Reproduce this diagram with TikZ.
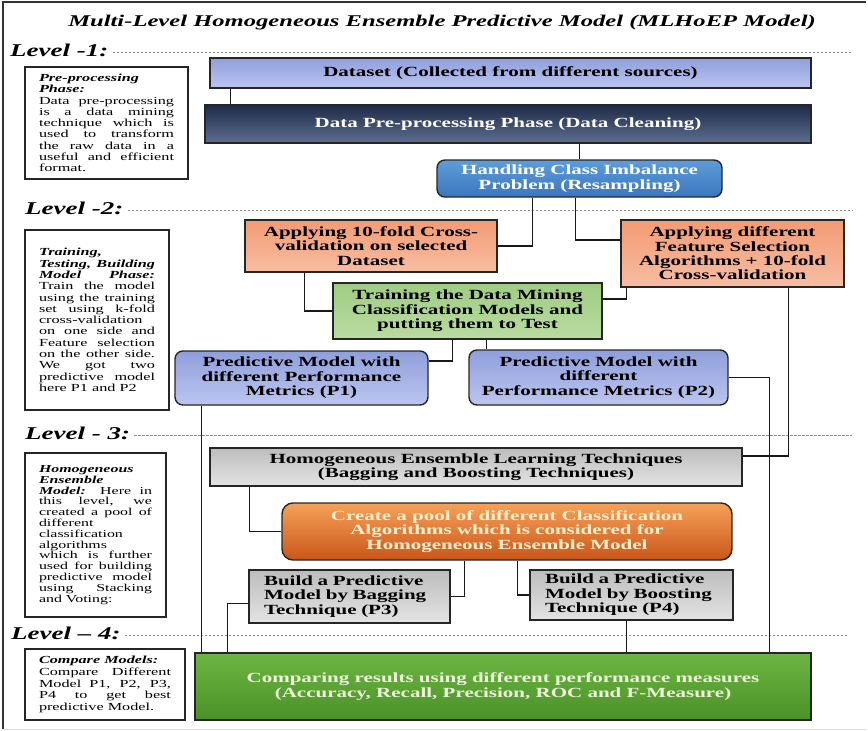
\documentclass[tikz,border=0pt]{standalone}
\usepackage{fontspec}
\setmainfont{Liberation Serif}[FakeStretch=1.5]
\definecolor{lavTop}{HTML}{8F9FDB}
\definecolor{lavBot}{HTML}{BBC5EF}
\definecolor{navyTop}{HTML}{1E2B47}
\definecolor{navyBot}{HTML}{5E6E90}
\definecolor{skyTop}{HTML}{5E9DDA}
\definecolor{skyBot}{HTML}{3A76BE}
\definecolor{salmonTop}{HTML}{F39B74}
\definecolor{salmonBot}{HTML}{F7BDA2}
\definecolor{leafTop}{HTML}{9FCC82}
\definecolor{leafBot}{HTML}{B9DCA1}
\definecolor{greyTop}{HTML}{BDBDBD}
\definecolor{greyBot}{HTML}{E3E3E3}
\definecolor{amberTop}{HTML}{F7A158}
\definecolor{amberBot}{HTML}{C9561A}
\definecolor{grassTop}{HTML}{6DB543}
\definecolor{grassBot}{HTML}{4A9226}
\definecolor{cream}{HTML}{FFF1CF}
\definecolor{paleText}{HTML}{EEF3DC}
\newcommand{\tightlines}{\lineskiplimit=-6pt\relax}

\begin{document}
\begin{tikzpicture}[
    x=1pt, y=-1pt,
    box/.style     = {rectangle, draw=black!85, line width=1.4pt, inner sep=2pt,
                      font=\fontsize{14}{14.4}\selectfont\bfseries\tightlines,
                      align=center},
    rbox/.style    = {box, rounded corners=8pt},
    note/.style    = {rectangle, draw=black!85, line width=1.4pt,
                      inner xsep=14pt, inner ysep=3pt, align=justify},
    lvl/.style     = {anchor=west, inner sep=0pt,
                      font=\fontsize{18}{20}\selectfont\bfseries\itshape},
    lvlline/.style = {black!45, line width=0.7pt, dash pattern=on 2.4pt off 1.6pt},
    link/.style    = {black!90, line width=1.3pt}
]
\useasboundingbox (0,0) rectangle (868,731);
\draw[line width=1.8pt, black!80] (866,2) -- (3,2) -- (3,729);
\draw[black!15, line width=1pt] (3,729) -- (866,729);

\node[inner sep=0pt, font=\fontsize{16.4}{18}\selectfont\bfseries\itshape] (title) at (442,23)
     {Multi-Level Homogeneous Ensemble Predictive Model (MLHoEP Model)};

%% -- Level 1: pre-processing -------------------------------
\node[lvl] (lvlone) at (10,50) {Level -1:};
\coordinate (endone) at (852,52);
\draw[lvlline] ([xshift=4pt,yshift=-2pt]lvlone.east) -- (endone);

\node[note, text width=135pt, minimum height=112pt,
      font=\fontsize{10.8}{11.3}\selectfont\tightlines] (phaseone) at (106.5,123)
     {\textbf{\textit{Pre-processing}}\newline\textbf{\textit{Phase:}}\newline
      Data pre-processing\linebreak is a data mining\linebreak technique which is\linebreak
      used to transform\linebreak the raw data in a\linebreak useful and efficient\linebreak format.};

\node[box, minimum width=601pt, minimum height=30pt, top color=lavTop, bottom color=lavBot]
     (dataset) at (510.5,73) {Dataset (Collected from different sources)};
\node[box, minimum width=606pt, minimum height=38pt, top color=navyTop, bottom color=navyBot,
      text=white] (preproc) at (508,124) {Data Pre-processing Phase (Data Cleaning)};
\node[rbox, minimum width=285pt, minimum height=37pt, top color=skyTop, bottom color=skyBot,
      text=white] (imbalance) at (579.5,178.5) {Handling Class Imbalance\\Problem (Resampling)};

%% -- Level 2: training / testing ----------------------------
\node[lvl] (lvltwo) at (25,208) {Level -2:};
\coordinate (endtwo) at (852,210);
\draw[lvlline] ([xshift=4pt,yshift=-2pt]lvltwo.east) -- (endtwo);

\node[note, text width=116pt, minimum height=180pt,
      font=\fontsize{10.8}{11.3}\selectfont\tightlines] (phasetwo) at (97,320)
     {\textbf{\textit{Training,}}\newline\textbf{\textit{Testing, Building}}\linebreak
      \textbf{\textit{Model Phase:}}\linebreak Train the model\linebreak using the training\linebreak
      set using k-fold\linebreak cross-validation\newline on one side and\linebreak
      Feature selection\linebreak on the other side.\linebreak We got two\linebreak
      predictive model\linebreak here P1 and P2};

\node[box, minimum width=252pt, minimum height=52pt, top color=salmonTop, bottom color=salmonBot]
     (kfold) at (371,246) {Applying 10-fold Cross-\\validation on selected\\Dataset};
\node[box, minimum width=223pt, minimum height=67pt, top color=salmonTop, bottom color=salmonBot]
     (featsel) at (732.5,253.5) {Applying different\\Feature Selection\\Algorithms + 10-fold\\Cross-validation};
\node[box, minimum width=269pt, minimum height=56pt, top color=leafTop, bottom color=leafBot]
     (train) at (467.5,311) {Training the Data Mining\\Classification Models and\\putting them to Test};
\node[rbox, minimum width=253pt, minimum height=54pt, top color=lavTop, bottom color=lavBot]
     (pmone) at (301.5,378) {Predictive Model with\\different Performance\\Metrics (P1)};
\node[rbox, minimum width=259pt, minimum height=55pt, top color=lavTop, bottom color=lavBot]
     (pmtwo) at (598.5,377.5) {Predictive Model with\\different\\Performance Metrics (P2)};

%% -- Level 3: homogeneous ensemble --------------------------
\node[lvl] (lvlthree) at (25,433) {Level - 3:};
\coordinate (endthree) at (852,435);
\draw[lvlline] ([xshift=4pt,yshift=-2pt]lvlthree.east) -- (endthree);

\node[note, text width=113pt, minimum height=164pt,
      font=\fontsize{10.6}{10.8}\selectfont\tightlines] (phasethree) at (95.5,535)
     {\textbf{\textit{Homogeneous}}\newline\textbf{\textit{Ensemble}}\newline
      \textbf{\textit{Model:}} Here in\linebreak this level, we\linebreak created a pool of\linebreak
      different\newline classification\newline algorithms\newline which is further\linebreak
      used for building\linebreak predictive model\linebreak using Stacking\linebreak and Voting:};

\node[box, minimum width=532pt, minimum height=38pt, top color=greyTop, bottom color=greyBot]
     (homog) at (476,467) {Homogeneous Ensemble Learning Techniques\\(Bagging and Boosting Techniques)};
\node[rbox, rounded corners=11pt, minimum width=450pt, minimum height=57pt,
      top color=amberTop, bottom color=amberBot, text=cream]
     (pool) at (507,531.5) {Create a pool of different Classification\\Algorithms which is considered for\\Homogeneous Ensemble Model};
\node[box, align=left, text width=171pt, inner xsep=15pt, minimum height=53pt,
      top color=greyTop, bottom color=greyBot]
     (bagging) at (349.5,596.5) {Build a Predictive\\Model by Bagging\\Technique (P3)};
\node[box, align=left, text width=173pt, inner xsep=15pt, minimum height=50pt,
      top color=greyTop, bottom color=greyBot]
     (boosting) at (631.5,595) {Build a Predictive\\Model by Boosting\\Technique (P4)};

%% -- Level 4: comparison ------------------------------------
\node[lvl] (lvlfour) at (11,633) {Level -- 4:};
\coordinate (endfour) at (847,635);
\draw[lvlline] ([xshift=4pt,yshift=-2pt]lvlfour.east) -- (endfour);

\node[note, text width=132pt, minimum height=71pt,
      font=\fontsize{10.8}{11.7}\selectfont\tightlines] (phasefour) at (105,684.5)
     {\textbf{\textit{Compare Models:}}\newline Compare Different\linebreak
      Model P1, P2, P3,\linebreak P4 to get best\linebreak predictive Model.};

\node[box, minimum width=616pt, minimum height=67pt, top color=grassTop, bottom color=grassBot,
      text=paleText] (compare) at (503,686.5)
     {Comparing results using different performance measures\\(Accuracy, Recall, Precision, ROC and F-Measure)};

%% -- Connectors ---------------------------------------------
\draw[link] ([xshift=21pt]dataset.south west) -- ([xshift=26pt]preproc.north west);
\draw[link] (imbalance.north |- preproc.south) -- (imbalance.north);
\draw[link] ([xshift=96pt]imbalance.south west) |- (kfold.east);
\draw[link] ([xshift=139pt]imbalance.south west) |- ([yshift=13.5pt]featsel.west);
\draw[link] ([xshift=60pt]kfold.south west) |- (train.west);
\draw[link] ([xshift=6pt]featsel.south west) |- ([yshift=12pt]train.east);
\draw[link] ([xshift=120pt]train.south west) |- ([yshift=17pt]pmone.east);
\draw[link] ([xshift=154pt]train.south west) -- ([xshift=18pt]pmtwo.north west);
\draw[link] (pmtwo.east) -| ([xshift=575pt]compare.north west);
\draw[link] ([xshift=168pt]featsel.south west) |- ([yshift=11pt]homog.east);
\draw[link] ([xshift=27pt]pmone.south west) -- ([xshift=7pt]compare.north west);
\draw[link] ([xshift=40pt]homog.south west) |- (pool.west);
\draw[link] ([xshift=183pt]pool.south west) |- (bagging.east);
\draw[link] ([xshift=236pt]pool.south west) |- (boosting.west);
\draw[link] ([yshift=-7pt]bagging.west) -| ([xshift=33pt]compare.north west);
\draw[link] ([xshift=97pt]boosting.south west) -- ([xshift=432pt]compare.north west);

\end{tikzpicture}
\end{document}
